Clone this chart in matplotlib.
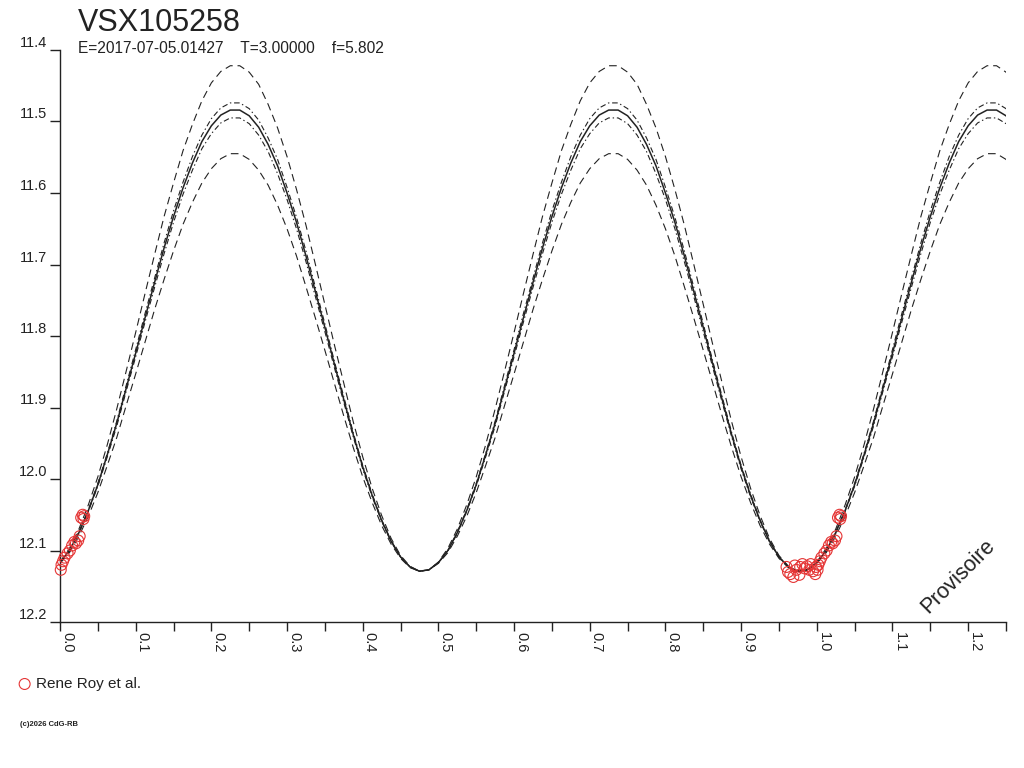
import numpy as np
import matplotlib.pyplot as plt
from matplotlib.ticker import MultipleLocator

plt.rcParams['font.family'] = ['Liberation Sans', 'DejaVu Sans']
plt.rcParams['lines.scale_dashes'] = False

# fitted light curve, one cycle read at phase steps of 0.0125 (repeats every 0.5)
cycle_phase = np.arange(40) * 0.0125
fit_mid = [12.117, 12.100, 12.075, 12.044, 12.008, 11.966, 11.922, 11.873, 11.824, 11.774,
           11.725, 11.677, 11.633, 11.593, 11.558, 11.528, 11.506, 11.491, 11.484, 11.484,
           11.492, 11.508, 11.532, 11.562, 11.600, 11.641, 11.688, 11.738, 11.788, 11.839,
           11.889, 11.938, 11.983, 12.023, 12.058, 12.087, 12.109, 12.123, 12.129, 12.127]
fit_hi_dash = [12.116, 12.097, 12.070, 12.036, 11.997, 11.952, 11.902, 11.849, 11.795, 11.740,
               11.686, 11.633, 11.586, 11.541, 11.504, 11.471, 11.446, 11.430, 11.422, 11.422,
               11.431, 11.448, 11.476, 11.509, 11.549, 11.595, 11.645, 11.700, 11.756, 11.812,
               11.866, 11.920, 11.969, 12.013, 12.051, 12.083, 12.107, 12.122, 12.129, 12.127]
fit_hi_dot = [12.117, 12.100, 12.074, 12.043, 12.006, 11.964, 11.919, 11.869, 11.819, 11.768,
              11.719, 11.670, 11.625, 11.585, 11.549, 11.519, 11.496, 11.481, 11.474, 11.474,
              11.482, 11.498, 11.523, 11.553, 11.592, 11.634, 11.681, 11.732, 11.783, 11.835,
              11.885, 11.935, 11.981, 12.021, 12.057, 12.086, 12.109, 12.123, 12.129, 12.127]
fit_lo_dot = [12.117, 12.101, 12.076, 12.045, 12.010, 11.969, 11.926, 11.877, 11.829, 11.780,
              11.732, 11.685, 11.641, 11.602, 11.568, 11.538, 11.517, 11.502, 11.495, 11.495,
              11.503, 11.519, 11.542, 11.573, 11.609, 11.650, 11.696, 11.745, 11.794, 11.844,
              11.893, 11.941, 11.986, 12.025, 12.059, 12.088, 12.109, 12.123, 12.129, 12.127]
fit_lo_dash = [12.118, 12.103, 12.080, 12.052, 12.019, 11.981, 11.942, 11.897, 11.853, 11.808,
               11.763, 11.721, 11.681, 11.644, 11.613, 11.586, 11.566, 11.552, 11.545, 11.545,
               11.553, 11.568, 11.589, 11.617, 11.650, 11.688, 11.731, 11.775, 11.820, 11.866,
               11.912, 11.956, 11.997, 12.033, 12.065, 12.091, 12.111, 12.124, 12.129, 12.127]

# observations (Rene Roy et al.), phase and magnitude
obs_phase = [0.960, 0.962, 0.965, 0.969, 0.971, 0.973, 0.977, 0.978, 0.981, 0.984,
             0.987, 0.990, 0.992, 0.995, 0.998, 0.999,
             0.001, 0.002, 0.004, 0.006, 0.010, 0.013, 0.016, 0.019, 0.021, 0.024,
             0.026, 0.028, 0.030, 0.031, 0.032]
obs_mag = [12.123, 12.130, 12.133, 12.137, 12.121, 12.127, 12.134, 12.123, 12.119, 12.125,
           12.122, 12.127, 12.119, 12.129, 12.133, 12.123,
           12.127, 12.120, 12.115, 12.110, 12.104, 12.100, 12.093, 12.088, 12.090, 12.086,
           12.080, 12.054, 12.050, 12.056, 12.052]

star = "VSX105258"
info = "E=2017-07-05.01427    T=3.00000    f=5.802"
source = "Rene Roy et al."

ink = '#222222'
red = '#e53535'

fig = plt.figure(figsize=(10.24, 7.68), dpi=100)
ax = fig.add_axes([60/1024, 146/768, 946/1024, 572/768])

ph = np.concatenate([cycle_phase + k * 0.5 for k in range(3)])
ax.plot(ph, np.tile(fit_hi_dash, 3), color=ink, lw=0.8, ls=(0, (5.5, 3.5)))
ax.plot(ph, np.tile(fit_lo_dash, 3), color=ink, lw=0.8, ls=(0, (5.5, 3.5)))
ax.plot(ph, np.tile(fit_hi_dot, 3), color=ink, lw=0.8, ls=(0, (4, 2, 1, 2)))
ax.plot(ph, np.tile(fit_lo_dot, 3), color=ink, lw=0.8, ls=(0, (4, 2, 1, 2)))
ax.plot(ph, np.tile(fit_mid, 3), color=ink, lw=1.1)

# phases folded: show each point at phase and phase+1 when in range
p = np.array(obs_phase)
m = np.array(obs_mag)
px = np.concatenate([p, p + 1])
py = np.concatenate([m, m])
keep = px <= 1.25
ax.scatter(px[keep], py[keep], s=62, facecolors='none', edgecolors=red, linewidths=0.8,
           clip_on=False, zorder=3, label=source)

ax.set_xlim(0, 1.25)
ax.set_ylim(12.2, 11.4)
ax.xaxis.set_major_locator(MultipleLocator(0.1))
ax.xaxis.set_minor_locator(MultipleLocator(0.05))
ax.yaxis.set_major_locator(MultipleLocator(0.1))
ax.xaxis.set_major_formatter(plt.FuncFormatter(lambda v, pos: f"{v:.1f}"))
ax.yaxis.set_major_formatter(plt.FuncFormatter(lambda v, pos: f"{v:.1f}"))

for s in ['top', 'right']:
    ax.spines[s].set_visible(False)
for s in ['left', 'bottom']:
    ax.spines[s].set_color(ink)
    ax.spines[s].set_linewidth(1.0)

ax.tick_params(axis='x', which='both', direction='out', length=6.5, width=1.0, color=ink,
               labelsize=10.5, labelcolor=ink, pad=1)
ax.tick_params(axis='y', which='both', direction='out', length=7.5, width=1.0, color=ink,
               labelsize=10.5, labelcolor=ink, pad=1.5)
for lab in ax.get_xticklabels():
    lab.set_rotation(-90)
    lab.set_ha('left')
    lab.set_va('top')
for lab in ax.get_yticklabels():
    lab.set_va('bottom')

fig.text(78/1024, 1 - 31/768, star, fontsize=22, color=ink, ha='left', va='baseline')
fig.text(78/1024, 1 - 53/768, info, fontsize=11.2, color=ink, ha='left', va='baseline')
fig.text(958/1024, 1 - 576/768, "Provisoire", fontsize=15.5, color=ink, rotation=45,
         ha='center', va='center')
fig.text(20/1024, 1 - 724/768, "(c)2026 CdG-RB", fontsize=5.5, fontweight='bold',
         color=ink, ha='left', va='center')

ax.legend(loc='center left', bbox_to_anchor=(17/1024, 1 - 684/768),
          bbox_transform=fig.transFigure, frameon=False, fontsize=11,
          handlelength=1.0, handletextpad=0.25, borderpad=0, borderaxespad=0,
          labelcolor=ink)

fig.savefig('out.png', dpi=100)
